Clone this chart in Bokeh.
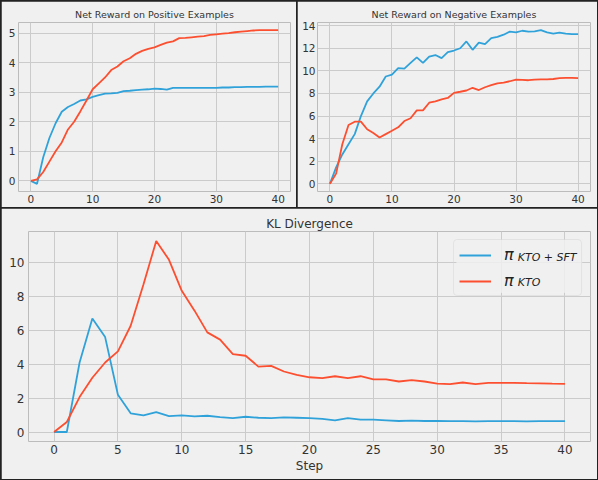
from bokeh.plotting import figure
from bokeh.layouts import column, row
from bokeh.models import FixedTicker, Range1d, Legend, LegendItem, Label, BoxAnnotation
from bokeh.embed import file_html
from bokeh.resources import INLINE

steps = list(range(41))

pos_kto_sft = [0, -0.1, 0.8, 1.45, 1.95, 2.34, 2.5, 2.6, 2.72, 2.76,
               2.84, 2.9, 2.95, 2.96, 2.98, 3.04, 3.05, 3.07, 3.09, 3.1,
               3.12, 3.11, 3.09, 3.15, 3.15, 3.15, 3.15, 3.15, 3.15, 3.15,
               3.15, 3.16, 3.16, 3.17, 3.17, 3.18, 3.18, 3.18, 3.19, 3.19, 3.19]
pos_kto = [0, 0.05, 0.3, 0.65, 1.0, 1.3, 1.74, 2.0, 2.35, 2.72,
           3.1, 3.3, 3.5, 3.75, 3.87, 4.05, 4.15, 4.3, 4.4, 4.47,
           4.52, 4.6, 4.68, 4.72, 4.83, 4.84, 4.86, 4.88, 4.9, 4.94,
           4.96, 4.98, 5.0, 5.03, 5.05, 5.07, 5.09, 5.1, 5.1, 5.1, 5.1]

neg_kto_sft = [0, 1.46, 2.6, 3.5, 4.4, 6.0, 7.3, 8.0, 8.6, 9.5,
               9.67, 10.25, 10.2, 10.7, 11.2, 10.7, 11.27, 11.4, 11.13, 11.66,
               11.8, 12.0, 12.6, 11.86, 12.5, 12.36, 12.9, 13.0, 13.2, 13.47,
               13.4, 13.55, 13.47, 13.5, 13.6, 13.4, 13.3, 13.38, 13.3, 13.25, 13.25]
neg_kto = [0, 0.9, 3.5, 5.2, 5.5, 5.5, 4.83, 4.5, 4.1, 4.4,
           4.7, 5.0, 5.56, 5.8, 6.5, 6.5, 7.18, 7.3, 7.47, 7.6,
           8.05, 8.15, 8.26, 8.5, 8.3, 8.55, 8.73, 8.9, 8.96, 9.08,
           9.23, 9.2, 9.17, 9.22, 9.25, 9.25, 9.28, 9.35, 9.37, 9.37, 9.35]

kl_kto_sft = [0, 0, 4.1, 6.7, 5.6, 2.2, 1.1, 0.98, 1.17, 0.94,
              0.98, 0.92, 0.96, 0.88, 0.82, 0.9, 0.84, 0.82, 0.86, 0.84,
              0.82, 0.78, 0.69, 0.82, 0.73, 0.73, 0.69, 0.65, 0.67, 0.65,
              0.65, 0.64, 0.64, 0.63, 0.64, 0.64, 0.64, 0.63, 0.64, 0.64, 0.64]
kl_kto = [0, 0.59, 2.06, 3.2, 4.1, 4.76, 6.27, 8.7, 11.27, 10.16,
          8.33, 7.16, 5.88, 5.45, 4.6, 4.5, 3.86, 3.9, 3.57, 3.37,
          3.23, 3.18, 3.29, 3.18, 3.29, 3.1, 3.1, 2.98, 3.06, 2.98,
          2.86, 2.82, 2.92, 2.82, 2.9, 2.9, 2.9, 2.88, 2.87, 2.85, 2.84]

titles = ["Net Reward on Positive Examples", "Net Reward on Negative Examples", "KL Divergence"]
x_ticks_top = [0, 10, 20, 30, 40]
x_ticks_bottom = [0, 5, 10, 15, 20, 25, 30, 35, 40]
y_ticks_pos = [0, 1, 2, 3, 4, 5]
y_ticks_neg = [0, 2, 4, 6, 8, 10, 12, 14]
y_ticks_kl = [0, 2, 4, 6, 8, 10]
legend_symbol = "\u03c0"
legend_subscripts = ["KTO + SFT", "KTO"]

BG = "#f0f0f0"
BLUE = "#30a2da"
RED = "#fc4f30"
FONT = "DejaVu Sans"
TXT = "#333333"


def make(title, w, h, yr, xt, yt, tsize, lsize, mb, valign, xstand, ystand):
    p = figure(width=w, height=h, x_range=Range1d(-2, 42), y_range=Range1d(*yr),
               output_backend="svg", toolbar_location=None, title=title,
               min_border_left=mb[0], min_border_right=mb[1],
               min_border_top=mb[2], min_border_bottom=mb[3])
    p.background_fill_color = BG
    p.border_fill_color = BG
    p.outline_line_color = None
    p.title.align = "center"
    p.title.vertical_align = valign
    p.title.text_font = FONT
    p.title.text_font_size = tsize
    p.title.text_font_style = "normal"
    p.title.text_color = TXT
    p.title.standoff = 2
    for ax in p.axis:
        ax.axis_line_color = None
        ax.major_tick_line_color = None
        ax.minor_tick_line_color = None
        ax.major_tick_out = 0
        ax.major_tick_in = 0
        ax.minor_tick_out = 0
        ax.minor_tick_in = 0
        ax.major_label_text_font = FONT
        ax.major_label_text_font_size = lsize
        ax.major_label_text_color = TXT
    p.xaxis.major_label_standoff = xstand
    p.yaxis.major_label_standoff = ystand
    p.xaxis.ticker = FixedTicker(ticks=xt)
    p.yaxis.ticker = FixedTicker(ticks=yt)
    p.grid.grid_line_color = "#cbcbcb"
    p.grid.grid_line_width = 1
    return p


p1 = make(titles[0], 295, 206, (-0.36, 5.36), x_ticks_top, y_ticks_pos,
          "9.5px", "10.5px", (17, 6, 21, 16), "top", 3, 3)
p1.line(steps, pos_kto_sft, line_color=BLUE, line_width=1.8)
p1.line(steps, pos_kto, line_color=RED, line_width=1.8)

p2 = make(titles[1], 300, 206, (-0.68, 14.28), x_ticks_top, y_ticks_neg,
          "9.5px", "10.5px", (20, 7, 20, 16), "top", 3, 2)
p2.line(steps, neg_kto_sft, line_color=BLUE, line_width=1.8)
p2.line(steps, neg_kto, line_color=RED, line_width=1.8)

p3 = make(titles[2], 596, 271, (-0.56, 11.83), x_ticks_bottom, y_ticks_kl,
          "12px", "12px", (27, 7, 23, 38), "bottom", 3, 4)
r1 = p3.line(steps, kl_kto_sft, line_color=BLUE, line_width=1.8)
r2 = p3.line(steps, kl_kto, line_color=RED, line_width=1.8)
p3.xaxis.axis_label = "Step"
p3.xaxis.axis_label_text_font = FONT
p3.xaxis.axis_label_text_font_size = "12px"
p3.xaxis.axis_label_text_font_style = "normal"
p3.xaxis.axis_label_text_color = TXT
p3.xaxis.axis_label_standoff = 2

# legend panel backdrop (hides the grid behind the legend box)
legend_box = BoxAnnotation(left=31.5, right=41.35, top=11.34, bottom=8.22,
                           fill_color=BG, fill_alpha=0.85, line_color=None)
p3.add_layout(legend_box)

legend = Legend(items=[LegendItem(label=legend_symbol, renderers=[r1]),
                       LegendItem(label=legend_symbol, renderers=[r2])],
                location="top_right")
legend.background_fill_alpha = 0
legend.border_line_color = "#d6d6d6"
legend.border_line_width = 1
legend.border_radius = 4
legend.label_text_font = FONT
legend.label_text_font_size = "16px"
legend.label_text_font_style = "italic"
legend.label_text_color = "#222222"
legend.glyph_width = 32
legend.glyph_height = 18
legend.label_height = 18
legend.label_width = 72
legend.label_standoff = 13
legend.margin = 8
legend.padding = 5
legend.spacing = 7
p3.add_layout(legend)

sub_x = 36.3
sub_y = [10.29, 8.81]
for txt, yy in zip(legend_subscripts, sub_y):
    p3.add_layout(Label(x=sub_x, y=yy, text=txt, text_font=FONT, text_font_size="11px",
                        text_font_style="italic", text_color="#222222",
                        text_baseline="middle", text_align="left", level="overlay"))

layout = column(row(p1, p2, spacing=1), p3, spacing=1,
                styles={"background-color": "#222222", "padding": "1px"})

open("out.html", "w").write(file_html(layout, INLINE))
